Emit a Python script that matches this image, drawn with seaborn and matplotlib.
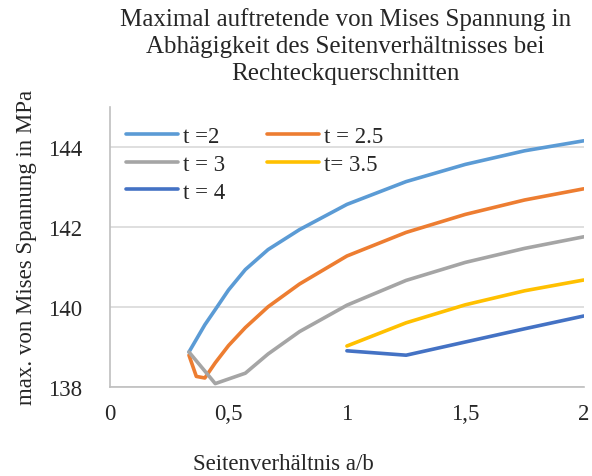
import matplotlib
matplotlib.use("Agg")
import matplotlib.pyplot as plt
import seaborn as sns
import pandas as pd

# data
series_names = ["t =2", "t = 2.5", "t = 3", "t= 3.5", "t = 4"]

x_t2 = [0.333, 0.4, 0.444, 0.5, 0.571, 0.667, 0.8, 1, 1.25, 1.5, 1.75, 2]
y_t2 = [138.87, 139.55, 139.93, 140.42, 140.93, 141.43, 141.93, 142.56, 143.13, 143.56, 143.90, 144.15]

x_t25 = [0.333, 0.364, 0.4, 0.444, 0.5, 0.571, 0.667, 0.8, 1, 1.25, 1.5, 1.75, 2]
y_t25 = [138.79, 138.26, 138.22, 138.60, 139.03, 139.48, 140.00, 140.57, 141.27, 141.86, 142.31, 142.67, 142.95]

x_t3 = [0.333, 0.444, 0.571, 0.667, 0.8, 1, 1.25, 1.5, 1.75, 2]
y_t3 = [138.87, 138.08, 138.34, 138.82, 139.38, 140.04, 140.66, 141.11, 141.46, 141.75]

x_t35 = [1, 1.25, 1.5, 1.75, 2]
y_t35 = [139.02, 139.60, 140.05, 140.40, 140.67]

x_t4 = [1, 1.25, 1.5, 1.75, 2]
y_t4 = [138.90, 138.79, 139.12, 139.45, 139.77]

x_ticks = [0, 0.5, 1, 1.5, 2]
x_tick_labels = ["0", "0,5", "1", "1,5", "2"]
y_ticks = [138, 140, 142, 144]

colors = ["#5B9BD5", "#ED7D31", "#A5A5A5", "#FFC000", "#4472C4"]

# long format for seaborn
frames = []
for name, xs, ys in zip(series_names,
                        [x_t2, x_t25, x_t3, x_t35, x_t4],
                        [y_t2, y_t25, y_t3, y_t35, y_t4]):
    frames.append(pd.DataFrame({"x": xs, "y": ys, "serie": name}))
df = pd.concat(frames, ignore_index=True)

sns.set_style("white")
plt.rcParams['font.family'] = ['Liberation Serif', 'DejaVu Serif']

fig = plt.figure(figsize=(5.92, 4.77), dpi=100)
ax = fig.add_axes([0.186, 0.187, 0.800, 0.587])

sns.lineplot(data=df, x="x", y="y", hue="serie", hue_order=series_names,
             palette=colors, estimator=None, sort=False, linewidth=2.6, ax=ax)

ax.set_xlim(0, 2)
ax.set_ylim(138, 145)
ax.set_xticks(x_ticks)
ax.set_xticklabels(x_tick_labels)
ax.set_yticks(y_ticks)
ax.tick_params(axis="both", length=0, labelsize=16.5)
ax.tick_params(axis="y", pad=20)
ax.tick_params(axis="x", pad=12)
ax.yaxis.grid(True, color="#D9D9D9", linewidth=1.2)
ax.set_axisbelow(True)

for s in ["top", "right"]:
    ax.spines[s].set_visible(False)
for s in ["left", "bottom"]:
    ax.spines[s].set_color("#BFBFBF")
    ax.spines[s].set_linewidth(1.2)

ax.set_xlabel("")
ax.set_ylabel("max. von Mises Spannung in MPa", fontsize=16.5, labelpad=8)

# legend filled row by row like the original (2 columns)
handles, labels = ax.get_legend_handles_labels()
order = [0, 2, 4, 1, 3]
ax.legend([handles[i] for i in order], [labels[i] for i in order],
          loc="upper left", bbox_to_anchor=(0.0, 0.99), ncol=2, frameon=False,
          fontsize=16.5, handlelength=2.27, handletextpad=0.22, columnspacing=1.8,
          labelspacing=0.3, borderaxespad=0.3)

fig.text(0.583, 0.984, "Maximal auftretende von Mises Spannung in\nAbhägigkeit des Seitenverhältnisses bei\nRechteckquerschnitten",
         ha="center", va="top", fontsize=18, linespacing=1.3)
fig.text(0.478, 0.004, "Seitenverhältnis a/b", ha="center", va="bottom", fontsize=16.5)

fig.savefig("out.png", dpi=100)
